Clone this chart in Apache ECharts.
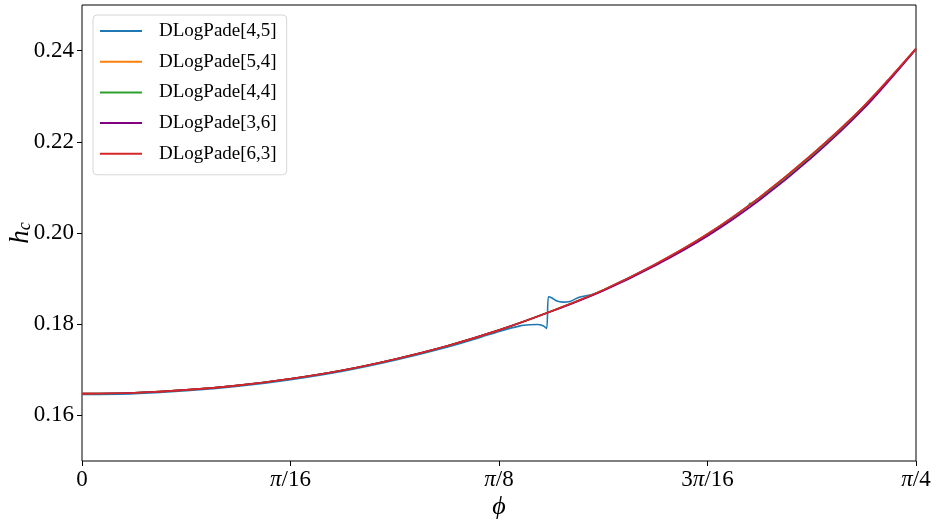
<!DOCTYPE html>
<html>
<head>
<meta charset="utf-8">
<script src="https://cdn.jsdelivr.net/npm/echarts@6/dist/echarts.min.js"></script>
<style>html,body{margin:0;padding:0;background:#fff;}#c{width:938px;height:523px;}</style>
</head>
<body>
<div id="c"></div>
<script>
// ---- data ----
const seriesNames = ['DLogPade[4,5]', 'DLogPade[5,4]', 'DLogPade[4,4]', 'DLogPade[3,6]', 'DLogPade[6,3]'];
const xTickValues = [0, 0.19634954, 0.39269908, 0.58904862, 0.78539816];
const xTickLabels = ['0', '{i|π}/16', '{i|π}/8', '3{i|π}/16', '{i|π}/4'];
const yTickValues = [0.16, 0.18, 0.20, 0.22, 0.24];
const yTickLabels = ['0.16', '0.18', '0.20', '0.22', '0.24'];

const phiGrid = [0, 0.049087, 0.098175, 0.147262, 0.196350, 0.245437, 0.294524, 0.343612, 0.392699,
                 0.441786, 0.490874, 0.539961, 0.589049, 0.638136, 0.687223, 0.736311, 0.785398];
const hRed = [0.16478, 0.16498, 0.16559, 0.16659, 0.16804, 0.16991, 0.17233, 0.17522, 0.17870,
              0.18283, 0.18750, 0.19315, 0.19978, 0.20783, 0.21717, 0.22783, 0.24043];
const hOrange = [0.16478, 0.16498, 0.16559, 0.16659, 0.16804, 0.16991, 0.17233, 0.17522, 0.17870,
                 0.18283, 0.18750, 0.19315, 0.19978, 0.20783, 0.21717, 0.22783, 0.24043];
const hPurple = [0.16478, 0.16498, 0.16559, 0.16659, 0.16804, 0.16991, 0.17233, 0.17522, 0.17870,
                 0.18276, 0.18735, 0.19289, 0.19935, 0.20724, 0.21652, 0.22729, 0.24032];

const phiGreen = [0, 0.049087, 0.098175, 0.147262, 0.196350, 0.245437, 0.294524, 0.343612, 0.392699,
                  0.441786, 0.490874, 0.539961, 0.589049, 0.62721, 0.62910, 0.63052, 0.63193,
                  0.638136, 0.687223, 0.736311, 0.785398];
const hGreen = [0.16478, 0.16498, 0.16559, 0.16659, 0.16804, 0.16991, 0.17233, 0.17522, 0.17870,
                0.18283, 0.18743, 0.19302, 0.19957, 0.20584, 0.20655, 0.20598, 0.20661,
                0.20753, 0.21684, 0.22756, 0.24037];

const phiBlue = [0, 0.049087, 0.098175, 0.147262, 0.196350, 0.245437, 0.294524, 0.343612,
                 0.374792, 0.393642, 0.412491, 0.421916, 0.428513, 0.434168, 0.437467, 0.439352,
                 0.442572, 0.447284, 0.452939, 0.459536, 0.468961, 0.480271, 0.490874,
                 0.539961, 0.589049, 0.638136, 0.687223, 0.736311, 0.785398];
const hBlue = [0.16458, 0.16478, 0.16539, 0.16639, 0.16784, 0.16970, 0.17210, 0.17495,
               0.17711, 0.17848, 0.17963, 0.17989, 0.17993, 0.17967, 0.17907, 0.18602,
               0.18576, 0.18507, 0.18485, 0.18500, 0.18598, 0.18651, 0.18750,
               0.19315, 0.19978, 0.20783, 0.21717, 0.22783, 0.24043];

const colors = ['#1f77b4', '#ff7f0e', '#2ca02c', '#800080', '#d62728'];

function pairs(xs, ys) { return xs.map((x, i) => [x, ys[i]]); }

const serif = "'Liberation Serif', 'DejaVu Serif', serif";
const chart = echarts.init(document.getElementById('c'), null, {renderer: 'canvas'});

const allData = [pairs(phiBlue, hBlue), pairs(phiGrid, hOrange), pairs(phiGreen, hGreen),
                 pairs(phiGrid, hPurple), pairs(phiGrid, hRed)];

chart.setOption({
  animation: false,
  backgroundColor: '#fff',
  grid: {left: 82, top: 5, width: 834, height: 456, show: true, borderColor: '#000', borderWidth: 1,
         backgroundColor: 'transparent', containLabel: false, outerBoundsMode: 'none'},
  legend: {
    orient: 'vertical', left: 93, top: 15,
    icon: 'rect',
    itemWidth: 42, itemHeight: 2, itemGap: 10.7,
    padding: [6, 10, 11, 7],
    backgroundColor: '#fff', borderColor: '#d6d6d6', borderWidth: 1, borderRadius: 4,
    textStyle: {fontFamily: serif, fontSize: 19, color: '#000', padding: [0, 0, 0, 12], lineHeight: 20},
    data: seriesNames.map(n => ({name: n}))
  },
  xAxis: {
    type: 'value', min: 0, max: 0.78539816,
    name: 'ϕ', nameLocation: 'middle', nameGap: 33, nameMoveOverlap: false,
    nameTextStyle: {fontFamily: serif, fontStyle: 'italic', fontSize: 26, color: '#000'},
    axisLine: {show: false},
    splitLine: {show: false},
    axisTick: {show: true, length: 5, lineStyle: {color: '#000', width: 1}, customValues: xTickValues},
    axisLabel: {
      customValues: xTickValues, margin: 7,
      fontFamily: serif, fontSize: 23, color: '#000',
      formatter: function (v) {
        let best = 0, d = 1e9;
        xTickValues.forEach((t, i) => { if (Math.abs(t - v) < d) { d = Math.abs(t - v); best = i; } });
        return xTickLabels[best];
      },
      rich: {i: {fontFamily: serif, fontStyle: 'italic', fontSize: 23, color: '#000'}}
    }
  },
  yAxis: {
    type: 'value', min: 0.15, max: 0.25,
    name: '{h|h}{c|c}', nameLocation: 'middle', nameGap: 48, nameRotate: 90, nameMoveOverlap: false,
    nameTextStyle: {
      rich: {
        h: {fontFamily: serif, fontStyle: 'italic', fontSize: 27, color: '#000', lineHeight: 30, verticalAlign: 'bottom'},
        c: {fontFamily: serif, fontStyle: 'italic', fontSize: 18, color: '#000', lineHeight: 18, padding: [14, 0, 0, 0], verticalAlign: 'bottom'}
      }
    },
    axisLine: {show: false},
    splitLine: {show: false},
    axisTick: {show: true, length: 5, lineStyle: {color: '#000', width: 1}, customValues: yTickValues},
    axisLabel: {
      customValues: yTickValues, margin: 8,
      fontFamily: serif, fontSize: 23, color: '#000',
      formatter: function (v) {
        let best = 0, d = 1e9;
        yTickValues.forEach((t, i) => { if (Math.abs(t - v) < d) { d = Math.abs(t - v); best = i; } });
        return yTickLabels[best];
      }
    }
  },
  series: seriesNames.map((n, i) => ({
    name: n, type: 'line', data: allData[i],
    symbol: 'none', showSymbol: false,
    smooth: 0.3,
    lineStyle: {color: colors[i], width: 1.6},
    itemStyle: {color: colors[i]},
    z: 2 + i
  }))
});
</script>
</body>
</html>
